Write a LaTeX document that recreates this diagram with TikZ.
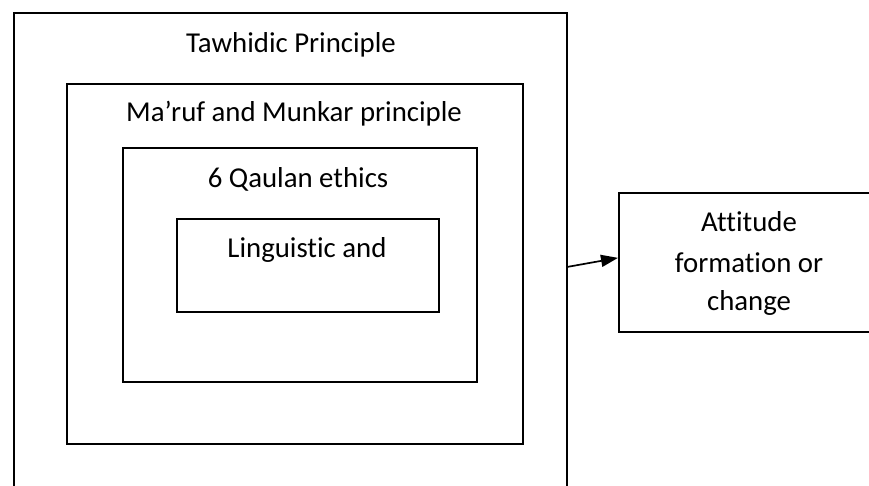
\documentclass[tikz,border=0pt]{standalone}
\usepackage{fontspec}
\setmainfont{Carlito}[Ligatures={NoCommon}]
\usetikzlibrary{arrows.meta}
\begin{document}
\begin{tikzpicture}[x=1pt,y=-1pt,
  frame/.style={draw=black,line width=1.7pt,rectangle,inner sep=0pt,anchor=north west},
  label/.style={inner sep=0pt,anchor=base,font=\fontsize{28.8}{40}\selectfont},
  link/.style={draw=black,line width=1.7pt,-{Triangle[length=17pt,width=12pt]}}]
\useasboundingbox (0,0) rectangle (869,485);
\clip (0,0) rectangle (869,485);
\fill[white] (0,0) rectangle (869,485);
\node[frame,minimum width=553pt,minimum height=488pt] (outer) at (13,12) {};
\node[frame,minimum width=456pt,minimum height=360pt] (maruf) at (66,83) {};
\node[frame,minimum width=354pt,minimum height=234pt] (qaulan) at (122,147) {};
\node[frame,minimum width=262pt,minimum height=93pt] (ling) at (176,218) {};
\node[frame,minimum width=262pt,minimum height=139pt] (att) at (618,192) {};
\node[label] (t1) at (291,52) {Tawhidic Principle};
\node[label] (t2) at (294,121) {Ma’ruf and Munkar principle};
\node[label] (t3) at (298,187) {6 Qaulan ethics};
\node[label] (t4) at (307,257) {Linguistic and};
\node[label] (a1) at (749,231) {Attitude};
\node[label] (a2) at (749,272) {formation or};
\node[label] (a3) at (749,310) {change};
\draw[link] ([yshift=-10pt]outer.east) -- ([yshift=4.5pt]att.west);
\end{tikzpicture}
\end{document}
